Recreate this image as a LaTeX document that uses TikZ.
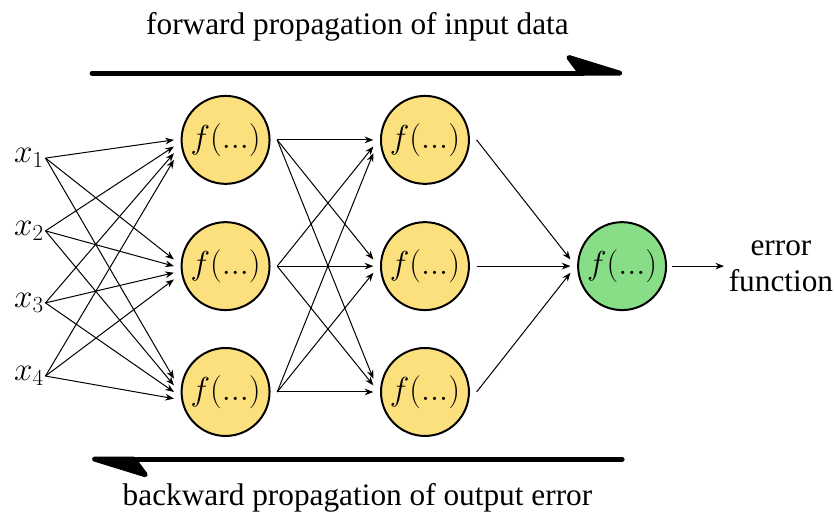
\documentclass[tikz,border=0pt]{standalone}
\usepackage[no-math]{fontspec}
\setmainfont{Liberation Serif}
\usetikzlibrary{arrows.meta, positioning}

\definecolor{neuronyellow}{HTML}{FDE07E}
\definecolor{neurongreen}{HTML}{88DE86}

\begin{document}
\begin{tikzpicture}[
    neuron/.style={circle, draw, line width=1.5pt, minimum size=2.32cm,
                   inner sep=0pt, font=\fontsize{23}{27}\selectfont},
    inlabel/.style={anchor=east, inner sep=1pt, font=\fontsize{23.5}{27}\selectfont},
    caption/.style={font=\fontsize{23.5}{27}\selectfont},
    link/.style={-{Stealth[length=6.5pt, width=5pt]}, line width=0.75pt},
    bigarrow/.style={line width=3.75pt, line cap=round,
                     -{Stealth[left, round, length=49pt, width=30pt, inset=11pt]}},
]
    \useasboundingbox (0,0) rectangle (22,-13.744);

    % inputs
    \foreach \i/\y in {1/-4.17, 2/-6.09, 3/-7.99, 4/-9.92}
        \node[inlabel] (x\i) at (1.2,\y) {$x_\i$};

    % two hidden layers + output
    \foreach \j/\y in {1/-3.69, 2/-7.02, 3/-10.34} {
        \node[neuron, fill=neuronyellow] (a\j) at (5.95,\y) {$f(...)$};
        \node[neuron, fill=neuronyellow] (b\j) at (11.21,\y) {$f(...)$};
    }
    \node[neuron, fill=neurongreen] (out) at (16.41,-7.02) {$f(...)$};
    \node[caption, align=center] (err) at (20.6,-7.02) {error\\function};

    \foreach \i in {1,...,4}
        \foreach \j in {1,2,3}
            \draw[link] (x\i.east) -- ([xshift=-5pt, yshift={(\j-\i)*5pt}]a\j.west);
    \foreach \i in {1,2,3}
        \foreach \j in {1,2,3}
            \draw[link] ([xshift=5pt]a\i.east) -- ([xshift=-5pt, yshift={(\j-\i)*5pt}]b\j.west);
    \foreach \i in {1,2,3}
        \draw[link] ([xshift=5pt]b\i.east) -- ([xshift=-5pt, yshift={(2-\i)*5pt}]out.west);
    \draw[link] ([xshift=4pt]out.east) -- (err.west);

    % propagation directions
    \coordinate (fwdL) at (2.43,-1.93);
    \coordinate (fwdR) at (16.41,-1.93);
    \coordinate (bwdL) at (2.43,-12.11);
    \coordinate (bwdR) at (16.41,-12.11);
    \draw[bigarrow] (fwdL) -- (fwdR);
    \draw[bigarrow] (bwdR) -- (bwdL);
    \node[caption] (fwdtext) at (9.43,-0.71) {forward propagation of input data};
    \node[caption] (bwdtext) at (9.43,-13.14) {backward propagation of output error};
\end{tikzpicture}
\end{document}
